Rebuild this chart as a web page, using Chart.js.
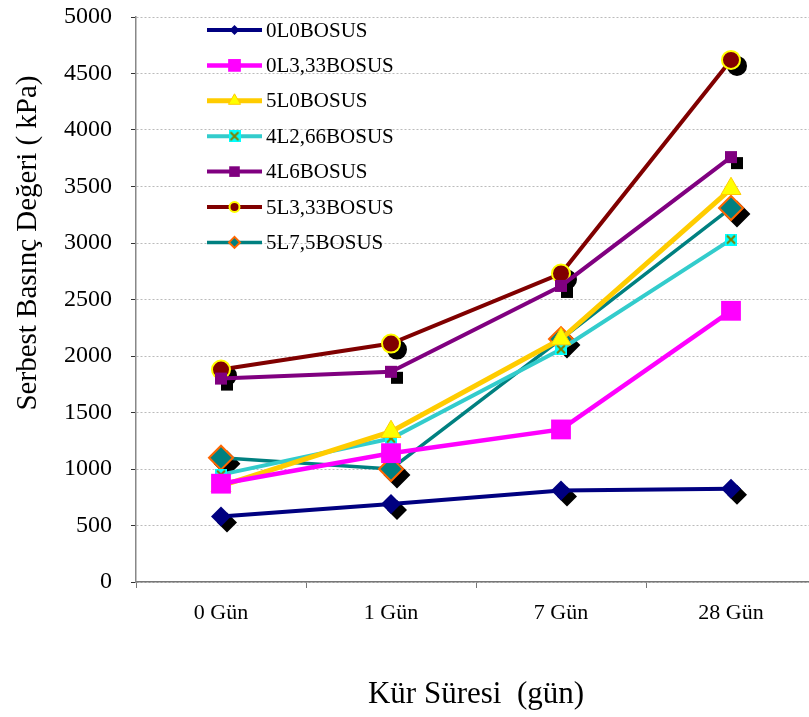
<!DOCTYPE html>
<html><head><meta charset="utf-8">
<script src="https://cdn.jsdelivr.net/npm/chart.js@4/dist/chart.umd.min.js"></script>
<style>html,body{margin:0;padding:0;background:#fff;overflow:hidden}#wrap{width:809px;height:717px;overflow:hidden;position:relative}#c{position:absolute;left:0;top:0}</style>
</head><body><div id="wrap"><canvas id="c" width="830" height="717" style="width:830px;height:717px"></canvas></div>
<script>
// ---- data ----
const categories = ['0 Gün', '1 Gün', '7 Gün', '28 Gün'];
const seriesNames = ['0L0BOSUS', '0L3,33BOSUS', '5L0BOSUS', '4L2,66BOSUS', '4L6BOSUS', '5L3,33BOSUS', '5L7,5BOSUS'];
const v0L0    = [580, 690, 810, 825];
const v0L333  = [870, 1140, 1350, 2400];
const v5L0    = [850, 1330, 2150, 3480];
const v4L266  = [950, 1270, 2060, 3030];
const v4L6    = [1800, 1860, 2620, 3760];
const v5L333  = [1880, 2110, 2730, 4620];
const v5L75   = [1100, 1000, 2150, 3310];
const yMin = 0, yMax = 5000, yStep = 500;
const xTitle = 'Kür Süresi  (gün)';
const yTitle = 'Serbest Basınç Değeri ( kPa)';

const FONT = "'Liberation Serif', 'Times New Roman', serif";

// custom marker: cyan square with olive cross
function crossMarker(size) {
  const c = document.createElement('canvas');
  c.width = size; c.height = size;
  const g = c.getContext('2d');
  g.fillStyle = '#00FFFF';
  g.fillRect(0, 0, size, size);
  g.strokeStyle = '#808000';
  g.lineWidth = 2;
  g.beginPath();
  g.moveTo(2, 2); g.lineTo(size - 2, size - 2);
  g.moveTo(size - 2, 2); g.lineTo(2, size - 2);
  g.stroke();
  return c;
}
const crossBig = crossMarker(12);

const values = [v0L0, v0L333, v5L0, v4L266, v4L6, v5L333, v5L75];
const styles = [
  {line: '#000080', width: 4, ps: 'rectRot', r: 10, fill: '#000080', bc: '#000080', bw: 0, shadow: true, lr: 5},
  {line: '#FF00FF', width: 4.5, ps: 'rect', r: 14, fill: '#FF00FF', bc: '#FF00FF', bw: 0, shadow: false, lr: 9},
  {line: '#FFCC00', width: 5, ps: 'triangle', r: 11.5, fill: '#FFFF00', bc: '#FFCC00', bw: 1, shadow: false, lr: 7},
  {line: '#33CCCC', width: 4, ps: crossBig, r: 6, fill: '#00FFFF', bc: '#808000', bw: 0, shadow: false, lr: 6},
  {line: '#800080', width: 4, ps: 'rect', r: 8.5, fill: '#800080', bc: '#800080', bw: 0, shadow: true, lr: 7.5},
  {line: '#800000', width: 4, ps: 'circle', r: 9, fill: '#800000', bc: '#FFFF00', bw: 2, shadow: true, lr: 5},
  {line: '#008080', width: 3.5, ps: 'rectRot', r: 12, fill: '#008080', bc: '#FF6600', bw: 2, shadow: true, lr: 5.5}
];

const datasets = seriesNames.map((name, i) => ({
  label: name,
  data: values[i],
  borderColor: styles[i].line,
  borderWidth: styles[i].width,
  backgroundColor: styles[i].fill,
  pointStyle: styles[i].ps,
  pointRadius: styles[i].r,
  pointHoverRadius: styles[i].r,
  pointBackgroundColor: styles[i].fill,
  pointBorderColor: styles[i].bc,
  pointBorderWidth: styles[i].bw,
  tension: 0,
  clip: false,
  shadow: styles[i].shadow,
  legendRadius: styles[i].lr
}));

const shadowPlugin = {
  id: 'markerShadow',
  beforeDatasetDraw(chart, args) {
    const ds = chart.data.datasets[args.index];
    if (!ds.shadow) return;
    const ctx = chart.ctx;
    const meta = args.meta;
    ctx.save();
    ctx.fillStyle = '#000';
    ctx.strokeStyle = '#000';
    ctx.lineWidth = ds.pointBorderWidth;
    meta.data.forEach(pt => {
      Chart.helpers.drawPoint(ctx, {pointStyle: ds.pointStyle, radius: ds.pointRadius, rotation: 0, borderWidth: ds.pointBorderWidth}, pt.x + 6, pt.y + 6);
    });
    ctx.restore();
  }
};

const legendPlugin = {
  id: 'inLegend',
  afterDatasetsDraw(chart) {
    const ctx = chart.ctx;
    ctx.save();
    chart.data.datasets.forEach((ds, i) => {
      const y = 30 + i * 35.4;
      ctx.strokeStyle = ds.borderColor;
      ctx.lineWidth = ds.borderWidth;
      ctx.beginPath();
      ctx.moveTo(207, y); ctx.lineTo(262, y);
      ctx.stroke();
      ctx.fillStyle = ds.pointBackgroundColor;
      ctx.strokeStyle = ds.pointBorderColor;
      ctx.lineWidth = ds.pointBorderWidth;
      Chart.helpers.drawPoint(ctx, {pointStyle: ds.pointStyle, radius: ds.legendRadius, rotation: 0, borderWidth: ds.pointBorderWidth}, 234.5, y);
      ctx.fillStyle = '#000';
      ctx.font = '21px ' + FONT;
      ctx.textAlign = 'left';
      ctx.textBaseline = 'middle';
      ctx.fillText(ds.label, 266, y + 1);
    });
    ctx.restore();
  }
};

const yTitlePlugin = {
  id: 'yTitle',
  afterDraw(chart) {
    const ctx = chart.ctx;
    ctx.save();
    ctx.translate(28, 243);
    ctx.rotate(-Math.PI / 2);
    ctx.font = '29px ' + FONT;
    ctx.fillStyle = '#000';
    ctx.textAlign = 'center';
    ctx.textBaseline = 'middle';
    ctx.fillText(yTitle, 0, 0);
    ctx.restore();
  }
};

new Chart(document.getElementById('c'), {
  type: 'line',
  data: {labels: categories, datasets},
  plugins: [shadowPlugin, legendPlugin, yTitlePlugin],
  options: {
    responsive: false,
    animation: false,
    devicePixelRatio: 1,
    layout: {padding: {top: 17, left: 0, right: 0, bottom: 0}},
    plugins: {legend: {display: false}, tooltip: {enabled: false}, title: {display: false}},
    scales: {
      x: {
        offset: true,
        grid: {offset: true, drawOnChartArea: false, drawTicks: true, tickLength: 6, color: '#777', tickColor: '#777'},
        border: {color: '#777', width: 1.5},
        ticks: {color: '#000', font: {family: FONT, size: 22}, padding: 12, maxRotation: 0},
        title: {display: true, text: xTitle, color: '#000', font: {family: FONT, size: 31}, padding: {top: 0, bottom: 4}},
        afterFit(s) { s.height = 135; s.paddingLeft = 0; s.paddingRight = 0; }
      },
      y: {
        min: yMin, max: yMax,
        ticks: {stepSize: yStep, color: '#000', font: {family: FONT, size: 24}, padding: 19,
                callback: (v) => String(v)},
        grid: {color: '#BBBBBB', tickColor: '#333', tickLength: 5, lineWidth: 1, drawTicks: true},
        border: {color: '#888', width: 1.5, dash: [2, 2]},
        afterFit(s) { s.width = 136; s.paddingTop = 0; s.paddingBottom = 0; }
      }
    }
  }
});
</script></body></html>
